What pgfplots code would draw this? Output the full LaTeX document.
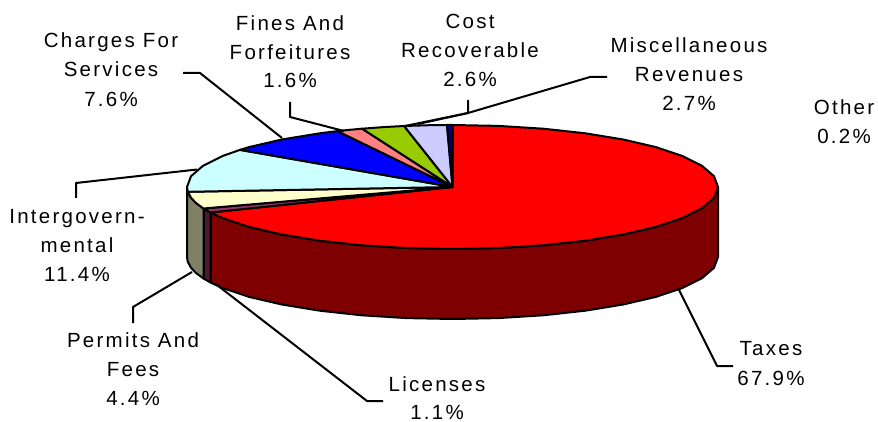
\documentclass[border=0pt]{standalone}
\usepackage{fontspec}
\setmainfont[LetterSpace=11]{Liberation Sans}
\usepackage{pgfplots}
\pgfplotsset{compat=1.18}
\definecolor{taxesT}{HTML}{FF0000}\definecolor{taxesW}{HTML}{7F0000}
\definecolor{licT}{HTML}{993366}\definecolor{licW}{HTML}{4C1933}
\definecolor{permT}{HTML}{FFFFCC}\definecolor{permW}{HTML}{808066}
\definecolor{interT}{HTML}{CCFFFF}
\definecolor{chargeT}{HTML}{0000FF}
\definecolor{fineT}{HTML}{FF8080}
\definecolor{costT}{HTML}{99CC00}
\definecolor{miscT}{HTML}{CCCCFF}
\definecolor{otherT}{HTML}{000080}
\newcommand{\lab}[3]{\node[anchor=base,inner sep=0pt,font=\fontsize{20.5}{24}\selectfont] at (axis cs:#1,#2) {#3};}
\begin{document}
\begin{tikzpicture}
\useasboundingbox (0,0) rectangle (878pt,422pt);
\begin{axis}[
  at={(0,0)}, anchor=south west,
  scale only axis, width=878pt, height=422pt,
  xmin=0, xmax=878, ymin=0, ymax=422, y dir=reverse,
  hide axis, clip=false,
  every axis plot/.append style={no markers, line width=2pt, line join=round},
]
% side wall of the pie
\addplot[draw=black,fill=taxesW] coordinates {(718,187)(714,197.8)(702,208.2)(682.4,218)(655.9,226.9)(623.2,234.5)(585.3,240.7)(543.3,245.3)(498.6,248.1)(452.5,249)(406.4,248.1)(361.7,245.3)(319.7,240.7)(281.8,234.5)(249.1,226.9)(222.6,218)(210.5,212.5)
 (210.5,282.5)(222.6,288)(249.1,296.9)(281.8,304.5)(319.7,310.7)(361.7,315.3)(406.4,318.1)(452.5,319)(498.6,318.1)(543.3,315.3)(585.3,310.7)(623.2,304.5)(655.9,296.9)(682.4,288)(702,278.2)(714,267.8)(718,257)} --cycle;
\addplot[draw=black,fill=licW] coordinates {(210.5,212.5)(203.5,208.5)(203.5,278.5)(210.5,282.5)} --cycle;
\addplot[draw=black,fill=permW] coordinates {(203.5,208.5)(196,203)(191,197.8)(187.8,191.8)(187,187)(187,257)(187.8,261.8)(191,267.8)(196,273)(203.5,278.5)} --cycle;
% top face, one wedge per category
\addplot[draw=black,fill=taxesT] coordinates {(452.5,187)(452.5,125)(498.6,125.9)(543.3,128.7)(585.3,133.3)(623.2,139.5)(655.9,147.1)(682.4,156)(702,165.8)(714,176.2)(718,187)(714,197.8)(702,208.2)(682.4,218)(655.9,226.9)(623.2,234.5)(585.3,240.7)(543.3,245.3)(498.6,248.1)(452.5,249)(406.4,248.1)(361.7,245.3)(319.7,240.7)(281.8,234.5)(249.1,226.9)(222.6,218)(210.5,212.5)} --cycle;
\addplot[draw=black,fill=licT] coordinates {(452.5,187)(210.5,212.5)(203.5,208.5)} --cycle;
\addplot[draw=black,fill=permT] coordinates {(452.5,187)(203.5,208.5)(196,203)(191,197.8)(187.8,191.8)} --cycle;
\addplot[draw=black,fill=interT] coordinates {(452.5,187)(187.8,191.8)(187,187)(191,176.2)(203,165.8)(222.6,156)(239.9,149.9)} --cycle;
\addplot[draw=black,fill=chargeT] coordinates {(452.5,187)(239.9,149.9)(249.1,147.1)(281.8,139.5)(319.7,133.3)(337.4,131.1)} --cycle;
\addplot[draw=black,fill=fineT] coordinates {(452.5,187)(337.4,131.1)(348.8,129.9)(362.1,128.7)} --cycle;
\addplot[draw=black,fill=costT] coordinates {(452.5,187)(362.1,128.7)(383.8,127.1)(404.1,126)} --cycle;
\addplot[draw=black,fill=miscT] coordinates {(452.5,187)(404.1,126)(429.4,125.2)(447,125)} --cycle;
\addplot[draw=black,fill=otherT] coordinates {(452.5,187)(447,125)(452.5,125)} --cycle;
% leader lines
\addplot[draw=black] coordinates {(678,288)(717,366)(733,366)};
\addplot[draw=black] coordinates {(217,285)(367,401)(383,401)};
\addplot[draw=black] coordinates {(192,272)(133,307)(133,323)};
\addplot[draw=black] coordinates {(197,169.5)(76,183)(76,198)};
\addplot[draw=black] coordinates {(282,138)(200,73)(183,73)};
\addplot[draw=black] coordinates {(344,131)(290,117)(290,102)};
\addplot[draw=black] coordinates {(468,100)(468,113)(418,124)};
\addplot[draw=black] coordinates {(405,126)(468,113)(590,77)(607,77)};
% labels
\lab{111}{48}{Charges For}\lab{111}{77}{Services}\lab{111}{107}{7.6\%}
\lab{290}{31}{Fines And}\lab{290}{60}{Forfeitures}\lab{290}{88}{1.6\%}
\lab{470}{29}{Cost}\lab{470}{58}{Recoverable}\lab{470}{87}{2.6\%}
\lab{689}{53}{Miscellaneous}\lab{689}{82}{Revenues}\lab{689}{111}{2.7\%}
\lab{844}{115}{Other}\lab{844}{144}{0.2\%}
\lab{77}{223}{Intergovern-}\lab{77}{252}{mental}\lab{77}{281}{11.4\%}
\lab{133}{347}{Permits And}\lab{133}{376}{Fees}\lab{133}{405}{4.4\%}
\lab{437}{391}{Licenses}\lab{437}{419}{1.1\%}
\lab{771}{355}{Taxes}\lab{771}{385}{67.9\%}
\end{axis}
\end{tikzpicture}
\end{document}
